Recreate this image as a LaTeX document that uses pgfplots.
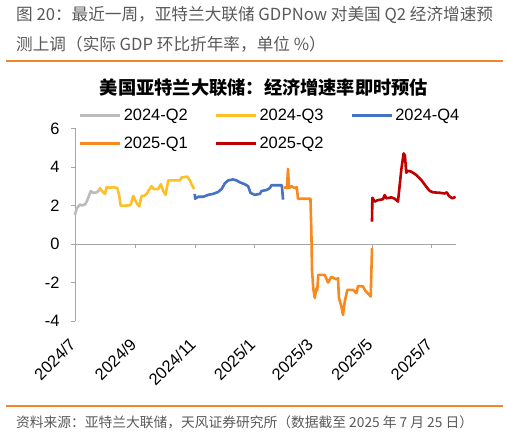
\documentclass[border=0pt]{standalone}
\usepackage{pgfplots}
\pgfplotsset{compat=1.18}
\usepackage{fontspec}
\setmainfont{Liberation Sans}
\newfontfamily\cjk{Noto Sans CJK SC}
\definecolor{cgray}{RGB}{188,188,188}
\definecolor{cyellow}{RGB}{253,192,40}
\definecolor{cblue}{RGB}{68,114,196}
\definecolor{corange}{RGB}{247,137,31}
\definecolor{cred}{RGB}{192,0,0}
\definecolor{hdr}{RGB}{89,89,89}
\definecolor{rule}{RGB}{240,134,40}
\definecolor{axgray}{RGB}{166,166,166}
\begin{document}
\begin{tikzpicture}[x=1bp,y=1bp]
\node[anchor=west, text=hdr, font=\cjk\fontsize{16.7}{20}\selectfont, inner sep=0pt] at (16,420) {图 20：最近一周，亚特兰大联储 GDPNow 对美国 Q2 经济增速预};
\node[anchor=west, text=hdr, font=\cjk\fontsize{16.7}{20}\selectfont, inner sep=0pt] at (16,391) {测上调（实际 GDP 环比折年率，单位 \%）};
\draw[rule, line width=1.2bp] (6,374) -- (503,374);
\draw[rule, line width=1.2bp] (6,29) -- (503,29);
\node[anchor=west, text=hdr, font=\cjk\fontsize{13.8}{16}\selectfont, inner sep=0pt] at (16,13) {资料来源：亚特兰大联储，天风证券研究所（数据截至 2025 年 7 月 25 日）};
\node[font=\cjk\bfseries\fontsize{18.3}{22}\selectfont, inner sep=0pt] at (264,347) {美国亚特兰大联储：经济增速率即时预估};
\begin{axis}[
  at={(75bp,191bp)}, anchor=origin,
  width=381bp, height=192.7bp, scale only axis,
  xmin=0, xmax=390, ymin=-4, ymax=6,
  clip=false,
  axis y line*=left, axis x line*=bottom,
  x axis line style={draw=none},
  y axis line style={axgray, line width=0.8bp, -},
  ytick={-4,-2,0,2,4,6},
  yticklabels={-4,-2,0,2,4,6},
  xtick={0,62,123,184,243,304,365},
  xticklabels={2024/7,2024/9,2024/11,2025/1,2025/3,2025/5,2025/7},
  xtick style={draw=none},
  ytick style={axgray, line width=0.8bp},
  tick align=outside,
  major tick length=4bp,
  tick label style={font=\fontsize{16.5}{16}\selectfont},
  yticklabel shift=8bp,
  xticklabel shift=14bp,
  xticklabel style={rotate=45, anchor=east},
  legend style={at={(0.0105,1.11)}, anchor=north west, draw=none, fill=none,
    inner sep=0pt, outer sep=0pt,
    font=\fontsize{16.5}{16}\selectfont, legend columns=3, row sep=11bp,
    /tikz/every even column/.append style={column sep=25bp}},
  legend image code/.code={\draw[#1,line width=2.8bp] (0bp,0bp) -- (40bp,0bp);},
  every axis plot/.append style={line width=2.6bp, line join=round, no marks},
]
\draw[axgray, line width=0.8bp] (axis cs:0,0) -- (axis cs:390,0);
\pgfplotsinvokeforeach{62,123,184,243,304,365}{\draw[axgray, line width=0.8bp] (axis cs:#1,0) -- ++(0bp,-4bp);}
\addplot[cgray] coordinates {(0,1.5)(1.7,1.85)(3.4,1.95)(5.1,2.05)(6.9,2.0)(10.2,2.05)(12,2.2)(13.6,2.4)(16.1,2.75)(18.7,2.65)(22.2,2.68)(24.8,2.8)};
\addlegendentry{2024-Q2}
\addplot[cyellow] coordinates {(24.8,2.8)(25.6,2.9)(27.6,2.75)(30.7,2.6)(32.4,2.95)(35.8,2.92)(39.2,2.95)(43.3,2.9)(45.3,2.5)(46.7,2.0)(50.1,1.98)(52.9,2.0)(56.9,2.02)(59.6,2.5)(61.4,2.3)(63.4,2.1)(65.7,1.95)(68.2,2.5)(70.6,2.5)(73.3,2.6)(75.7,2.8)(78.4,3.0)(80.8,2.85)(85.2,2.85)(87.9,3.1)(90.3,2.75)(92.7,2.55)(95.4,3.3)(98.9,3.3)(107.4,3.3)(109.1,3.45)(114.8,3.5)(117.6,3.3)(120.3,3.0)(122.0,2.85)};
\addlegendentry{2024-Q3}
\addplot[cblue] coordinates {(122.5,2.6)(123,2.35)(126.1,2.45)(131.2,2.45)(136.3,2.55)(141.4,2.6)(146.5,2.7)(150,2.85)(153.4,3.15)(156.8,3.3)(161.9,3.35)(165.3,3.3)(168.7,3.2)(173.8,3.1)(177.2,3.0)(179.7,2.65)(184,2.55)(189.2,2.6)(190.9,2.75)(196,2.8)(199.4,2.9)(201.1,3.05)(209.6,3.05)(211.7,3.05)(213,2.3)};
\addlegendentry{2024-Q4}
\addplot[corange] coordinates {(214,2.9)(215.7,2.95)(217,2.9)(218,3.9)(219.1,2.9)(221.6,3.0)(225,2.9)(227,2.95)(228.3,2.35)(241,2.35)(242,0.5)(242.6,-1.35)(243.9,-2.3)(245.4,-2.8)(247.2,-2.3)(248,-2.4)(249,-1.6)(255.6,-1.6)(259,-2.0)(262.5,-1.7)(266.9,-1.83)(269.2,-1.78)(270.2,-2.8)(272.7,-3.25)(274.3,-3.68)(276.1,-3.0)(278.8,-2.38)(284.6,-2.38)(288,-2.55)(289.7,-2.18)(294.8,-2.2)(297.5,-2.45)(301.6,-2.65)(302.7,-2.73)(304,-0.22)};
\addlegendentry{2025-Q1}
\addplot[cred] coordinates {(304,1.16)(304.4,2.4)(306.8,2.2)(310.1,2.28)(315.2,2.32)(317,2.54)(318.7,2.37)(323.8,2.42)(327.2,2.35)(329.5,2.25)(330.6,2.2)(334,3.85)(336.4,4.7)(337.7,4.6)(339.1,3.7)(340.8,3.8)(344.3,3.75)(349.4,3.58)(354.5,3.32)(359.6,2.97)(363,2.76)(366.4,2.68)(373.2,2.66)(378.3,2.62)(380.7,2.68)(382.7,2.49)(386.2,2.37)(389.6,2.45)};
\addlegendentry{2025-Q2}
\end{axis}
\useasboundingbox (0,0) rectangle (508,435);
\end{tikzpicture}
\end{document}
